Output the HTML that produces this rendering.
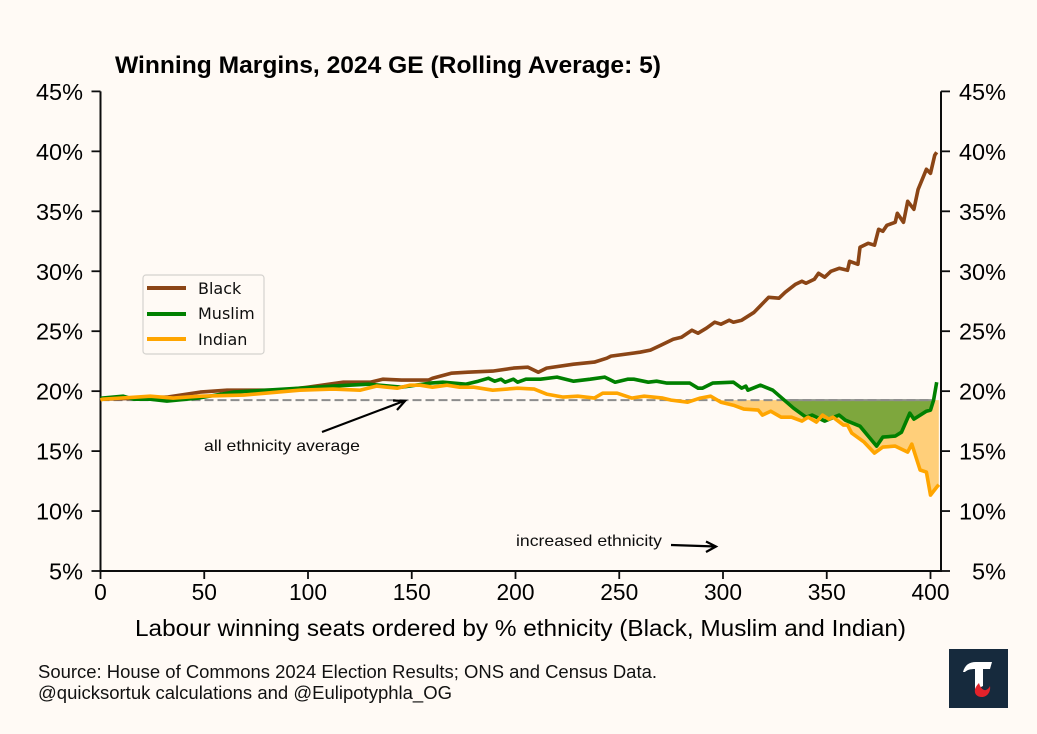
<!DOCTYPE html>
<html lang="en">
<head>
<meta charset="utf-8">
<title>Winning Margins, 2024 GE</title>
<style>
html,body{margin:0;padding:0;background:#fffaf5;}
body{width:1037px;height:734px;overflow:hidden;}
svg{display:block;}
text{font-family:"Liberation Sans",Arial,sans-serif;}
</style>
</head>
<body>
<svg id="chart" width="1037" height="734" viewBox="0 0 1037 734" xmlns="http://www.w3.org/2000/svg">
  <defs>
    <filter id="soft" filterUnits="userSpaceOnUse" x="0" y="0" width="1037" height="734"><feGaussianBlur stdDeviation="0.35"/></filter>
  </defs>
  <rect width="1037" height="734" fill="#fffaf5"/>
  <text x="115" y="73" font-size="24" font-weight="700" fill="#000" textLength="546" lengthAdjust="spacingAndGlyphs">Winning Margins, 2024 GE (Rolling Average: 5)</text>
  <g id="fills" filter="url(#soft)"></g>
  <g id="axes" filter="url(#soft)"></g>
  <g id="series" filter="url(#soft)"></g>

  <g filter="url(#soft)">
    <rect x="143" y="275" width="121" height="79" rx="3" fill="#fffaf5" stroke="#d4d2ce" stroke-width="1.2"/>
    <g>
      <line x1="147" x2="186" y1="288" y2="288" stroke="#8b4513" stroke-width="4"/>
      <text x="198" y="294" font-size="16" fill="#111" style="font-family:'DejaVu Sans',sans-serif">Black</text>
    </g>
    <g>
      <line x1="147" x2="186" y1="314" y2="314" stroke="#008000" stroke-width="4"/>
      <text x="198" y="319" font-size="16" fill="#111" style="font-family:'DejaVu Sans',sans-serif">Muslim</text>
    </g>
    <g>
      <line x1="147" x2="186" y1="339" y2="339" stroke="#ffa500" stroke-width="4"/>
      <text x="198" y="345" font-size="16" fill="#111" style="font-family:'DejaVu Sans',sans-serif">Indian</text>
    </g>
  </g>

  <g filter="url(#soft)">
    <text x="204" y="451" font-size="16" fill="#111" textLength="156" lengthAdjust="spacingAndGlyphs">all ethnicity average</text>
    <path d="M322 432L404 401M393 400.5L405 401L397 410" fill="none" stroke="#000" stroke-width="2.2"/>
  </g>
  <g filter="url(#soft)">
    <text x="516" y="546" font-size="16" fill="#111" textLength="146" lengthAdjust="spacingAndGlyphs">increased ethnicity</text>
    <path d="M671 545L716 546.5M706 541.5L716 546.5L706 552" fill="none" stroke="#000" stroke-width="2.2"/>
  </g>

  <text x="135" y="636" font-size="23" fill="#000" textLength="771" lengthAdjust="spacingAndGlyphs" filter="url(#soft)">Labour winning seats ordered by % ethnicity (Black, Muslim and Indian)</text>
  <text x="38" y="678" font-size="18" fill="#111" textLength="619" lengthAdjust="spacingAndGlyphs">Source: House of Commons 2024 Election Results; ONS and Census Data.</text>
  <text x="38" y="699" font-size="18" fill="#111" textLength="414" lengthAdjust="spacingAndGlyphs">@quicksortuk calculations and @Eulipotyphla_OG</text>

  <g filter="url(#soft)">
    <rect x="949" y="649" width="59" height="59" fill="#15293d"/>
    <path d="M963 672C965 665 969 662 976 662L992 662L990 669L983 669L983 686L975 690L975 669C970 669 967 670 965 672Z" fill="#fff"/>
    <path d="M975 689C976 686 978 684 979 683C980 687 983 691 986 690C988 689 989 688 990 686C991 692 987 697 982 697C977 697 974 694 975 689Z" fill="#e3202a"/>
  </g>
</svg>
<script>
var xTickValues = [0, 50, 100, 150, 200, 250, 300, 350, 400];
var xTickLabels = ["0", "50", "100", "150", "200", "250", "300", "350", "400"];
var yTickValues = [5, 10, 15, 20, 25, 30, 35, 40, 45];
var yTickLabels = ["5%", "10%", "15%", "20%", "25%", "30%", "35%", "40%", "45%"];
var allEthnicityAverage = 19.25;

var blackSeats = [0,16,32,48,61,76,88,100,117,130,136,145,158,160,169,177,189,199,206,211,215,228,238,244,246,260,265,270,276,280,285,288,292,296,299,303,305,309,315,322,327,330,335,338,340,344,346,349,352,356,360,361,365,366,370,373,375,377,379,383,384,387,389,392,394,398,400,402,403];
var blackValues = [19.33,19.4,19.5,19.92,20.08,20.08,20.08,20.33,20.75,20.75,21,20.92,20.92,21.08,21.5,21.58,21.67,21.92,22,21.58,21.92,22.25,22.42,22.75,22.92,23.25,23.42,23.83,24.33,24.5,25.08,24.83,25.25,25.75,25.58,25.92,25.75,25.92,26.58,27.83,27.75,28.25,28.92,29.17,29,29.33,29.83,29.5,30,30.25,30.08,30.83,30.58,32,32.33,32.17,33.5,33.33,33.83,34.08,34.83,34.08,35.83,35.17,36.83,38.5,38.17,39.67,39.92];

var muslimSeats = [0,1,11,16,24,32,47,64,80,96,112,129,145,159,165,176,182,187,190,193,195,199,201,205,212,220,228,236,243,248,254,257,264,268,273,284,288,290,295,305,309,311,312,318,324,329,334,340,343,349,356,359,366,374,377,383,386,390,392,398,400,401.5,403];
var muslimValues = [19.4,19.42,19.58,19.33,19.33,19.17,19.42,19.92,20.08,20.25,20.42,20.58,20.33,20.67,20.75,20.58,20.83,21.08,20.83,21,20.75,21,20.75,21,21,21.17,20.83,21,21.17,20.75,21,21,20.75,20.83,20.67,20.67,20.25,20.25,20.67,20.75,20.25,20.42,20.08,20.5,20.08,19.33,18.58,17.83,18,17.5,18,17.58,17.08,15.42,16.17,16.25,16.58,18.17,17.67,18.33,18.42,19.25,20.75];

var indianSeats = [0,1,24,35,48,69,96,112,125,133,143,149,154,160,167,173,180,189,201,209,215,223,230,238,242,249,256,262,271,275,283,289,294,299,305,310,317,319,323,328,333,338,341,345,348,351,353,358,360,362,368,373,377,383,389,391,395,398,400,403,404];
var indianValues = [19.25,19.33,19.58,19.42,19.58,19.67,20.08,20.17,20.08,20.42,20.25,20.5,20.5,20.33,20.5,20.33,20.33,20.08,20.25,20.17,19.75,19.5,19.58,19.42,19.83,19.83,19.42,19.58,19.42,19.25,19.08,19.42,19.58,19.08,18.83,18.5,18.42,18,18.33,17.83,17.83,17.5,17.83,17.42,18,17.67,17.83,17.17,17.17,16.5,15.75,14.83,15.33,15.42,14.92,15.58,13.42,13.25,11.33,12,12.2];

var NS = 'http://www.w3.org/2000/svg';
var plotLeft = 100.5, seatScale = 2.075, plotBottom = 571, pctScale = 11.99, plotRight = 941;
function xAxis(seat) { return plotLeft + seat * seatScale; }
function yAxis(pct) { return plotBottom - (pct - 5) * pctScale; }
function make(tag, attrs, parent) {
  var el = document.createElementNS(NS, tag);
  for (var k in attrs) el.setAttribute(k, attrs[k]);
  parent.appendChild(el);
  return el;
}
function linePoints(seats, values) {
  return seats.map(function (s, i) { return xAxis(s).toFixed(1) + ',' + yAxis(values[i]).toFixed(1); }).join(' ');
}
/* Runs of the series below the average, with the crossings interpolated */
function belowRuns(seats, values, avg) {
  var runs = [], cur = null;
  for (var i = 0; i < seats.length; i++) {
    var below = values[i] < avg;
    if (i > 0) {
      var was = values[i - 1] < avg;
      if (was !== below) {
        var t = (avg - values[i - 1]) / (values[i] - values[i - 1]);
        var sx = seats[i - 1] + t * (seats[i] - seats[i - 1]);
        if (below) { cur = [[sx, avg]]; } else { cur.push([sx, avg]); runs.push(cur); cur = null; }
      }
    }
    if (below) { if (!cur) cur = [[seats[i], avg]]; cur.push([seats[i], values[i]]); }
  }
  if (cur) { cur.push([seats[seats.length - 1], avg]); runs.push(cur); }
  return runs;
}
function runPoints(run) {
  return run.map(function (p) { return xAxis(p[0]).toFixed(1) + ',' + yAxis(p[1]).toFixed(1); }).join(' ');
}

var fills = document.getElementById('fills');
belowRuns(indianSeats, indianValues, allEthnicityAverage).forEach(function (run) {
  var poly = make('polygon', { points: runPoints(run), fill: '#ffa500', 'fill-opacity': '0.5' }, fills);
  
  
});
belowRuns(muslimSeats, muslimValues, allEthnicityAverage).forEach(function (run) {
  var poly = make('polygon', { points: runPoints(run), fill: '#008000', 'fill-opacity': '0.5', stroke: '#8f938a', 'stroke-width': '2' }, fills);
  
  
});

var axes = document.getElementById('axes');
var avgLine = make('line', { x1: xAxis(0), x2: plotRight - 8, y1: yAxis(allEthnicityAverage), y2: yAxis(allEthnicityAverage), stroke: '#8c8c8c', 'stroke-width': '2', 'stroke-dasharray': '9 4' }, axes);



var axisPath = make('path', { d: 'M' + xAxis(0) + ' ' + yAxis(45) + 'V' + plotBottom + 'H' + plotRight + 'V' + yAxis(45), fill: 'none', stroke: '#111', 'stroke-width': '2' }, axes);



xTickValues.forEach(function (v, i) {
  var x = xAxis(v);
  var t = make('line', { x1: x, x2: x, y1: plotBottom, y2: plotBottom + 8, stroke: '#111', 'stroke-width': '1.8' }, axes);
  
  
  var l = make('text', { x: x, y: 600, 'font-size': '23.5', fill: '#000', 'text-anchor': 'middle', textLength: (xTickLabels[i].length * 12.65).toFixed(1), lengthAdjust: 'spacingAndGlyphs' }, axes);
  
  
  l.textContent = xTickLabels[i];
});
yTickValues.forEach(function (v, i) {
  var y = yAxis(v);
  var t = make('line', { x1: xAxis(0) - 9, x2: xAxis(0), y1: y, y2: y, stroke: '#111', 'stroke-width': '1.8' }, axes);
  
  
  var t2 = make('line', { x1: plotRight, x2: plotRight + 9, y1: y, y2: y, stroke: '#111', 'stroke-width': '1.8' }, axes);
  
  
  var l = make('text', { x: 83, y: y + 8.5, 'font-size': '23.5', fill: '#000', 'text-anchor': 'end' }, axes);
  
  
  l.textContent = yTickLabels[i];
  var r = make('text', { x: 1006, y: y + 8.5, 'font-size': '23.5', fill: '#000', 'text-anchor': 'end' }, axes);
  
  
  r.textContent = yTickLabels[i];
});

var series = document.getElementById('series');
var blackLine = make('polyline', { points: linePoints(blackSeats, blackValues), fill: 'none', stroke: '#8b4513', 'stroke-width': '3.6', 'stroke-linejoin': 'round' }, series);


var muslimLine = make('polyline', { points: linePoints(muslimSeats, muslimValues), fill: 'none', stroke: '#008000', 'stroke-width': '3.6', 'stroke-linejoin': 'round' }, series);


var indianLine = make('polyline', { points: linePoints(indianSeats, indianValues), fill: 'none', stroke: '#ffa500', 'stroke-width': '3.6', 'stroke-linejoin': 'round' }, series);


</script>
</body>
</html>
